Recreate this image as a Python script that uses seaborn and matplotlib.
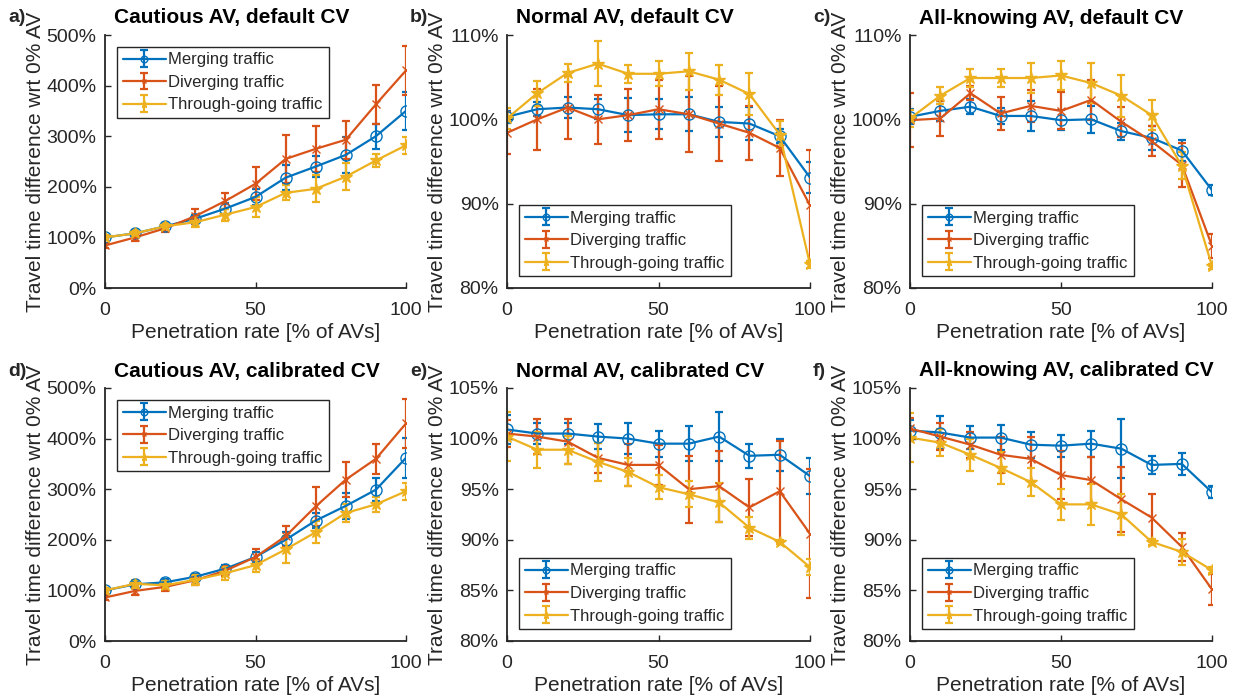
import matplotlib
matplotlib.use('Agg')
import matplotlib.pyplot as plt
import seaborn as sns
from matplotlib.ticker import FuncFormatter

rate = [0, 10, 20, 30, 40, 50, 60, 70, 80, 90, 100]
series_names = ['Merging traffic', 'Diverging traffic', 'Through-going traffic']

# a) Cautious AV, default CV
a_merge = [100, 108, 122, 137, 157, 180, 218, 240, 263, 300, 350]
a_merge_err = [5, 6, 6, 8, 10, 15, 25, 20, 35, 25, 38]
a_div = [84, 100, 118, 142, 172, 206, 255, 275, 293, 363, 430]
a_div_err = [5, 7, 8, 15, 15, 33, 47, 45, 38, 38, 48]
a_thru = [100, 108, 122, 130, 145, 160, 188, 196, 220, 252, 282]
a_thru_err = [5, 6, 6, 10, 12, 20, 15, 27, 27, 12, 17]

# b) Normal AV, default CV
b_merge = [100.3, 101.2, 101.4, 101.2, 100.5, 100.6, 100.6, 99.7, 99.5, 98.0, 93.1]
b_merge_err = [0.7, 0.8, 1.2, 1.2, 2.0, 1.8, 2.0, 1.8, 2.0, 0.8, 1.8]
b_div = [98.4, 100.0, 101.4, 100.0, 100.5, 101.2, 100.6, 99.5, 98.4, 96.6, 89.8]
b_div_err = [2.5, 3.6, 3.7, 2.9, 3.1, 3.5, 4.5, 4.5, 3.2, 3.3, 6.6]
b_thru = [100.1, 103.1, 105.5, 106.6, 105.4, 105.4, 105.7, 104.7, 103.0, 98.2, 82.8]
b_thru_err = [1.2, 1.5, 1.1, 2.7, 1.1, 1.5, 2.2, 1.8, 2.5, 1.6, 0.4]

# c) All-knowing AV, default CV
c_merge = [100.3, 101.0, 101.5, 100.4, 100.4, 99.9, 100.0, 98.6, 97.8, 96.3, 91.6]
c_merge_err = [0.9, 1.2, 0.9, 1.0, 1.8, 1.2, 1.6, 1.0, 1.4, 1.3, 0.6]
c_div = [99.9, 100.1, 103.1, 100.7, 101.6, 101.0, 102.3, 99.7, 97.4, 94.6, 85.0]
c_div_err = [3.2, 2.1, 0.8, 2.0, 1.9, 2.2, 2.4, 1.8, 1.8, 2.6, 1.4]
c_thru = [100.1, 102.8, 104.9, 104.9, 104.9, 105.2, 104.3, 102.8, 100.5, 94.5, 82.6]
c_thru_err = [1.0, 1.0, 1.1, 1.1, 1.8, 1.7, 2.4, 2.5, 1.8, 1.6, 0.3]

# d) Cautious AV, calibrated CV
d_merge = [100, 112, 116, 127, 143, 166, 200, 238, 267, 299, 362]
d_merge_err = [5, 6, 6, 6, 8, 10, 15, 15, 25, 23, 40]
d_div = [86, 99, 107, 120, 139, 166, 207, 266, 319, 360, 430]
d_div_err = [5, 8, 8, 10, 10, 15, 20, 38, 35, 30, 48]
d_thru = [100, 113, 110, 121, 134, 150, 181, 215, 253, 270, 296]
d_thru_err = [5, 8, 8, 10, 13, 13, 27, 22, 17, 15, 17]

# e) Normal AV, calibrated CV
e_merge = [100.9, 100.5, 100.5, 100.2, 100.0, 99.5, 99.5, 100.2, 98.3, 98.4, 96.3]
e_merge_err = [1.4, 1.0, 1.0, 1.2, 1.5, 1.3, 1.7, 2.4, 1.2, 1.6, 1.8]
e_div = [100.5, 100.2, 99.7, 98.1, 97.4, 97.4, 95.0, 95.3, 93.2, 94.8, 90.6]
e_div_err = [1.3, 1.7, 2.2, 1.5, 2.1, 2.0, 3.3, 3.5, 2.8, 5.0, 6.4]
e_thru = [100.2, 98.9, 98.9, 97.7, 96.7, 95.2, 94.5, 93.7, 91.2, 89.8, 87.3]
e_thru_err = [2.4, 1.8, 1.4, 1.9, 1.4, 1.2, 1.3, 1.9, 1.1, 0.2, 0.8]

# f) All-knowing AV, calibrated CV
f_merge = [100.8, 100.6, 100.1, 100.1, 99.4, 99.3, 99.5, 99.0, 97.4, 97.5, 94.7]
f_merge_err = [1.0, 1.6, 1.1, 1.2, 1.3, 1.1, 1.3, 2.9, 0.9, 1.1, 0.6]
f_div = [101.0, 100.2, 99.4, 98.4, 98.0, 96.4, 95.9, 94.0, 92.2, 89.3, 85.1]
f_div_err = [1.0, 1.3, 1.3, 1.8, 2.2, 2.4, 2.3, 3.2, 2.3, 1.4, 1.5]
f_thru = [100.1, 99.6, 98.4, 97.1, 95.7, 93.5, 93.5, 92.5, 89.8, 88.8, 87.0]
f_thru_err = [2.4, 1.3, 1.6, 1.6, 1.4, 1.5, 2.0, 2.0, 0.3, 1.3, 0.3]

panels = [
    ('a)', 'Cautious AV, default CV', (0, 500, 100), 'upper left',
     [(a_merge, a_merge_err), (a_div, a_div_err), (a_thru, a_thru_err)]),
    ('b)', 'Normal AV, default CV', (80, 110, 10), 'lower left',
     [(b_merge, b_merge_err), (b_div, b_div_err), (b_thru, b_thru_err)]),
    ('c)', 'All-knowing AV, default CV', (80, 110, 10), 'lower left',
     [(c_merge, c_merge_err), (c_div, c_div_err), (c_thru, c_thru_err)]),
    ('d)', 'Cautious AV, calibrated CV', (0, 500, 100), 'upper left',
     [(d_merge, d_merge_err), (d_div, d_div_err), (d_thru, d_thru_err)]),
    ('e)', 'Normal AV, calibrated CV', (80, 105, 5), 'lower left',
     [(e_merge, e_merge_err), (e_div, e_div_err), (e_thru, e_thru_err)]),
    ('f)', 'All-knowing AV, calibrated CV', (80, 105, 5), 'lower left',
     [(f_merge, f_merge_err), (f_div, f_div_err), (f_thru, f_thru_err)]),
]

sns.set_theme(style='ticks')
plt.rcParams['font.family'] = ['Liberation Sans', 'DejaVu Sans']

colors = ['#0072BD', '#D95319', '#EDB120']
markers = [('o', 8, 'none'), ('x', 6, None), ('*', 9, None)]
ink = '#262626'

W, H = 1237, 700
fig = plt.figure(figsize=(W / 100, H / 100), dpi=100)

# axes boxes in pixels: left, right, top, bottom
lefts = [(105, 406), (507, 810), (910, 1212)]
rows = [(35, 288), (388, 641)]

for i, (letter, title, (ylo, yhi, ystep), loc, data) in enumerate(panels):
    r, c = divmod(i, 3)
    x0, x1 = lefts[c]
    y0, y1 = rows[r]
    ax = fig.add_axes([x0 / W, 1 - y1 / H, (x1 - x0) / W, (y1 - y0) / H])
    for (vals, errs), name, col, (m, ms, mfc) in zip(data, series_names, colors, markers):
        kw = dict(markerfacecolor=mfc) if mfc else {}
        ax.errorbar(rate, vals, yerr=errs, color=col, marker=m, markersize=ms,
                    lw=1.6, elinewidth=1.6, capsize=3, capthick=1.6,
                    label=name, **kw)
    ax.set_xlim(0, 100)
    ax.set_ylim(ylo, yhi)
    ax.set_xticks([0, 50, 100])
    ax.set_yticks(range(ylo, yhi + 1, ystep))
    ax.yaxis.set_major_formatter(FuncFormatter(lambda v, p: '%d%%' % round(v)))
    ax.tick_params(direction='in', labelsize=14, length=4, width=1, colors=ink, pad=6)
    ax.tick_params(axis='x', pad=10)
    for s in ['left', 'bottom']:
        ax.spines[s].set_linewidth(1.3)
        ax.spines[s].set_color(ink)
    sns.despine(ax=ax)
    ax.set_xlabel('Penetration rate [% of AVs]', fontsize=15, color=ink, labelpad=3)
    ax.set_ylabel('Travel time difference wrt 0% AV', fontsize=15, color=ink, labelpad=1)
    leg = ax.legend(loc=loc, fontsize=12, frameon=True, fancybox=False,
                    edgecolor=ink, framealpha=1, handlelength=2.6, markerscale=0.6,
                    borderaxespad=0.7, labelspacing=0.45, handletextpad=0.15,
                    borderpad=0.35)
    leg.get_frame().set_linewidth(1.0)
    for t in leg.get_texts():
        t.set_color(ink)
    # title sits left-aligned just inside the axes' left edge
    fig.text((x0 + 9) / W, 1 - (y0 - 17) / H, title, fontsize=15,
             fontweight='bold', ha='left', va='center', color='black')
    fig.text((x0 - 97) / W, 1 - (y0 - 17) / H, letter, fontsize=14,
             fontweight='bold', ha='left', va='center')

fig.savefig('out.png', dpi=100)
